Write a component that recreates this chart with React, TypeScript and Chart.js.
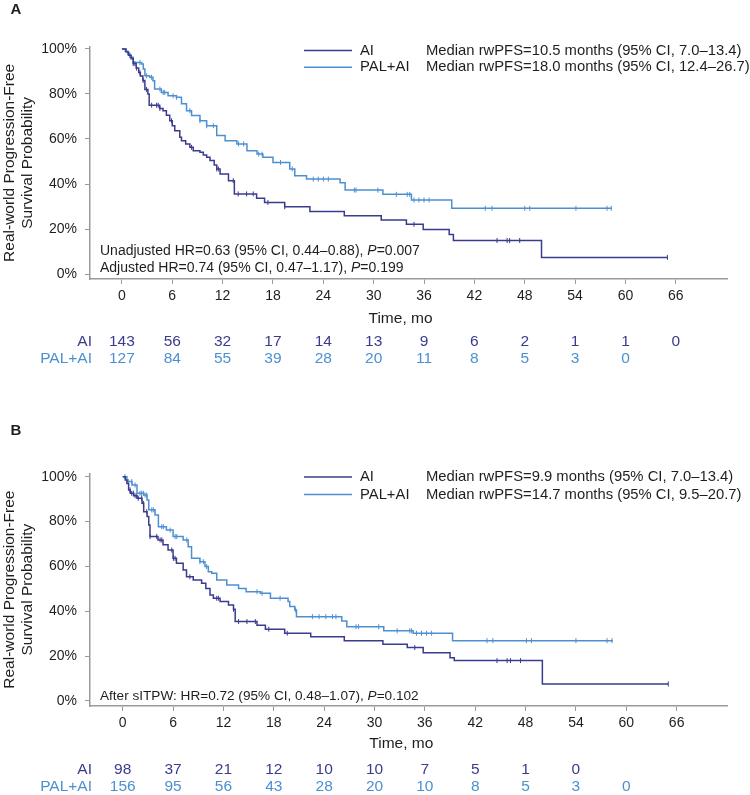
import React, { useEffect, useRef } from 'react';
import { Chart, registerables } from 'chart.js';

Chart.register(...registerables);

// ---------- shared ----------
const timeTicks = [0, 6, 12, 18, 24, 30, 36, 42, 48, 54, 60, 66];
const survTicks = [0, 20, 40, 60, 80, 100];
const groupNames = ['AI', 'PAL+AI'];
const timeTitle = 'Time, mo';
const yTitle = ['Real-world Progression-Free', 'Survival Probability'];

// ---------- Panel A ----------
const aTimesAI = [0, 0.5, 0.8, 1.1, 1.35, 1.7, 2.0, 2.2, 2.5, 2.74, 3.1, 3.25, 4.5, 4.9, 5.3, 5.7, 6.0, 6.3, 6.9, 7.1, 7.6, 8.1, 8.5, 9.3, 9.7, 10.1, 10.5, 11.0, 11.3, 11.7, 12.7, 13.4, 16.05, 17.0, 19.4, 22.4, 26.5, 30.9, 33.9, 35.9, 39.0, 39.5, 50.0];
const aSurvAI = [100, 98.6, 97.2, 95.8, 93.5, 91.5, 89.5, 88, 86, 82, 80, 75, 73.5, 72.6, 70.5, 68.1, 65.9, 63.7, 60.8, 59.2, 57.8, 56.3, 54.8, 54.1, 52.9, 51.9, 50.4, 48.5, 46.7, 44.4, 41.5, 35.6, 33.7, 31.8, 29.9, 27.8, 25.9, 24.0, 22.1, 19.8, 17.6, 14.9, 7.4];
const aEndAI = 65.0;
const aCensorAI = [0.95, 1.35, 1.55, 1.75, 2.15, 2.54, 2.94, 3.54, 4.13, 4.33, 4.53, 5.92, 8.3, 11.3, 11.5, 13.27, 13.86, 14.86, 15.65, 17.4, 19.4, 34.8, 44.7, 45.9, 46.2, 47.4, 65.0];
const aTimesPAL = [0, 0.4, 0.7, 0.95, 1.35, 2.35, 2.55, 2.74, 3.3, 3.7, 3.9, 4.7, 5.5, 6.5, 7.1, 7.7, 8.3, 9.3, 10.1, 11.3, 12.3, 13.7, 14.9, 16.1, 16.8, 18.0, 20.0, 20.6, 22.0, 26.0, 26.6, 31.1, 34.5, 39.3];
const aSurvPAL = [100, 99, 97.5, 96.3, 94, 93.3, 91.1, 88.1, 87.4, 85.9, 82.2, 80.7, 79.2, 78.5, 75.6, 72.6, 70.4, 68.1, 65.9, 61.5, 59.2, 57.8, 54.8, 53.3, 51.9, 49.6, 46.7, 43.7, 42.2, 40.6, 37.3, 35.4, 32.9, 29.2];
const aEndPAL = 58.4;
const aCensorPAL = [1.1, 2.15, 2.94, 3.54, 4.53, 4.93, 5.1, 6.1, 6.5, 8.1, 9.3, 10.1, 10.9, 13.9, 14.5, 16.3, 16.7, 18.9, 20.3, 22.8, 23.4, 24.0, 24.6, 27.7, 27.9, 30.5, 32.7, 34.0, 34.3, 34.8, 35.4, 36.0, 36.6, 43.3, 44.1, 48.0, 48.6, 54.1, 57.8, 58.3];
const aRiskAI = [143, 56, 32, 17, 14, 13, 9, 6, 2, 1, 1, 0];
const aRiskPAL = [127, 84, 55, 39, 28, 20, 11, 8, 5, 3, 0];
const aMedians = ['Median rwPFS=10.5 months (95% CI, 7.0–13.4)', 'Median rwPFS=18.0 months (95% CI, 12.4–26.7)'];
const aNotes = ['Unadjusted HR=0.63 (95% CI, 0.44–0.88), *P*=0.007', 'Adjusted HR=0.74 (95% CI, 0.47–1.17), *P*=0.199'];

// ---------- Panel B ----------
const bTimesAI = [0, 0.3, 0.5, 0.7, 0.9, 1.3, 1.7, 2.3, 2.5, 2.9, 3.1, 3.25, 4.2, 4.8, 5.4, 6.0, 6.4, 7.2, 7.6, 8.4, 9.4, 9.9, 10.4, 10.8, 11.6, 12.6, 13.2, 13.4, 16.0, 17.0, 19.3, 22.4, 26.4, 31.0, 33.9, 35.8, 39.0, 39.5, 50.0];
const bSurvAI = [100, 98.5, 97, 94.1, 92.6, 91.5, 90.4, 88.1, 84.4, 82.2, 78.5, 73.3, 71.8, 69.6, 67.3, 63.6, 61.4, 58.4, 55.4, 53.9, 52.5, 50.2, 47.3, 45.8, 44.3, 42.8, 40.9, 35.4, 33.8, 32.0, 30.2, 28.6, 26.9, 25.3, 23.8, 21.5, 19.3, 18.0, 7.6];
const bEndAI = 65.0;
const bCensorAI = [0.87, 1.07, 1.27, 1.47, 1.67, 1.86, 2.26, 2.46, 2.86, 3.26, 4.05, 4.45, 4.65, 5.84, 6.04, 6.24, 8.0, 11.2, 11.4, 13.2, 13.8, 14.8, 15.8, 17.4, 19.6, 34.8, 44.6, 45.8, 46.2, 47.4, 65.0];
const bTimesPAL = [0, 0.5, 1.1, 1.7, 2.5, 2.9, 3.1, 3.85, 4.25, 5.2, 6.0, 7.2, 7.8, 8.2, 9.2, 9.8, 10.2, 10.6, 11.2, 12.4, 13.8, 14.7, 16.4, 17.6, 19.7, 19.9, 20.5, 20.7, 26.1, 26.7, 31.1, 34.6, 39.3];
const bSurvPAL = [100, 97.8, 96.3, 92.6, 91.8, 89.6, 85.2, 82.9, 77.7, 76.2, 73.3, 71.8, 68.8, 63.6, 62.1, 59.9, 57.6, 56.9, 53.9, 51.7, 50.2, 48.7, 48.0, 45.8, 44.3, 42.1, 40.6, 37.6, 35.7, 33.1, 31.3, 30.2, 26.9];
const bEndPAL = 58.4;
const bCensorPAL = [0.27, 0.67, 1.07, 1.47, 2.06, 2.26, 2.46, 2.66, 2.86, 3.46, 3.65, 4.65, 4.84, 5.64, 6.24, 6.44, 7.63, 9.2, 9.6, 10.0, 16.0, 16.6, 18.75, 20.6, 22.6, 23.4, 24.2, 25.0, 25.4, 27.8, 28.1, 30.5, 32.7, 34.2, 34.4, 35.0, 35.6, 36.2, 36.8, 43.4, 44.1, 48.1, 48.7, 54.0, 57.7, 58.3];
const bRiskAI = [98, 37, 21, 12, 10, 10, 7, 5, 1, 0];
const bRiskPAL = [156, 95, 56, 43, 28, 20, 10, 8, 5, 3, 0];
const bMedians = ['Median rwPFS=9.9 months (95% CI, 7.0–13.4)', 'Median rwPFS=14.7 months (95% CI, 9.5–20.7)'];
const bNotes = ['After sITPW: HR=0.72 (95% CI, 0.48–1.07), *P*=0.102'];

// ---------- styling ----------
const COLOR_AI = '#3b3b8e';
const COLOR_PAL = '#4d90d2';
const AXIS = '#9a9a9a';
const TEXT = '#1e1e1e';
const FAM = 'Arial, "Liberation Sans", Helvetica, sans-serif';

function stepAt(times: number[], surv: number[], t: number) {
  let v = surv[0];
  for (let i = 0; i < times.length; i++) if (times[i] <= t) v = surv[i];
  return v;
}

function curve(times: number[], surv: number[], end: number) {
  const pts = times.map((t, i) => ({ x: t, y: surv[i] }));
  pts.push({ x: end, y: surv[surv.length - 1] });
  return pts;
}

interface PanelCfg {
  label: string;
  height: number;
  plotTop: number;
  plotBottom: number;
  xMin: number;
  xMax: number;
  yMin: number;
  yMax: number;
  labelY: number;
  legendY: number[];
  noteY: number[];
  noteSize: number;
  timeTitleY: number;
  riskY: number[];
  timesAI: number[]; survAI: number[]; endAI: number; censorAI: number[];
  timesPAL: number[]; survPAL: number[]; endPAL: number; censorPAL: number[];
  riskAI: number[]; riskPAL: number[];
  medians: string[]; notes: string[];
}

const panelA: PanelCfg = {
  label: 'A', height: 400, plotTop: 46.7, plotBottom: 279, xMin: -3.8, xMax: 72.1, yMin: -2.2, yMax: 101.0,
  labelY: 10, legendY: [50.5, 67.3], noteY: [251, 268], noteSize: 14, timeTitleY: 319, riskY: [341.7, 359],
  timesAI: aTimesAI, survAI: aSurvAI, endAI: aEndAI, censorAI: aCensorAI,
  timesPAL: aTimesPAL, survPAL: aSurvPAL, endPAL: aEndPAL, censorPAL: aCensorPAL,
  riskAI: aRiskAI, riskPAL: aRiskPAL, medians: aMedians, notes: aNotes,
};

const panelB: PanelCfg = {
  label: 'B', height: 395, plotTop: 73.3, plotBottom: 306, xMin: -3.9, xMax: 72.0, yMin: -2.23, yMax: 101.5,
  labelY: 31, legendY: [77, 94.5], noteY: [296.7], noteSize: 13.6, timeTitleY: 344, riskY: [370, 386.7],
  timesAI: bTimesAI, survAI: bSurvAI, endAI: bEndAI, censorAI: bCensorAI,
  timesPAL: bTimesPAL, survPAL: bSurvPAL, endPAL: bEndPAL, censorPAL: bCensorPAL,
  riskAI: bRiskAI, riskPAL: bRiskPAL, medians: bMedians, notes: bNotes,
};

function drawRich(ctx: CanvasRenderingContext2D, text: string, x: number, y: number, size: number) {
  const parts = text.split('*');
  let cx = x;
  parts.forEach((p, i) => {
    ctx.font = (i % 2 === 1 ? 'italic ' : '') + size + 'px ' + FAM;
    ctx.fillText(p, cx, y);
    cx += ctx.measureText(p).width;
  });
}

function Panel({ cfg }: { cfg: PanelCfg }) {
  const ref = useRef<HTMLCanvasElement>(null);
  useEffect(() => {
    if (!ref.current) return;
    const overlay = {
      id: 'overlay',
      afterDraw(chart: any) {
        const ctx: CanvasRenderingContext2D = chart.ctx;
        const xs = chart.scales.x;
        const area = chart.chartArea;
        ctx.save();
        ctx.fillStyle = TEXT;
        ctx.textBaseline = 'middle';
        // panel label
        ctx.font = 'bold 15px ' + FAM;
        ctx.textAlign = 'left';
        ctx.fillText(cfg.label, 10.5, cfg.labelY);
        // y title
        const cy = (area.top + area.bottom) / 2;
        ctx.font = '15.5px ' + FAM;
        ctx.textAlign = 'center';
        ctx.textBaseline = 'alphabetic';
        [14, 32].forEach((bx, i) => {
          ctx.save();
          ctx.translate(bx, cy);
          ctx.rotate(-Math.PI / 2);
          ctx.fillText(yTitle[i], 0, 0);
          ctx.restore();
        });
        ctx.textBaseline = 'middle';
        // legend
        const cols = [COLOR_AI, COLOR_PAL];
        cfg.legendY.forEach((ly, i) => {
          ctx.strokeStyle = cols[i];
          ctx.lineWidth = 1.5;
          ctx.beginPath();
          ctx.moveTo(304, ly);
          ctx.lineTo(352, ly);
          ctx.stroke();
          ctx.fillStyle = TEXT;
          ctx.font = '14.8px ' + FAM;
          ctx.textAlign = 'left';
          ctx.fillText(groupNames[i], 360, ly);
          ctx.fillText(cfg.medians[i], 426, ly);
        });
        // notes
        ctx.fillStyle = TEXT;
        ctx.textAlign = 'left';
        cfg.notes.forEach((n, i) => drawRich(ctx, n, 100, cfg.noteY[i], cfg.noteSize));
        // x title
        ctx.font = '15.5px ' + FAM;
        ctx.textAlign = 'center';
        ctx.fillText(timeTitle, xs.getPixelForValue(33.2), cfg.timeTitleY);
        // risk table
        const risks = [cfg.riskAI, cfg.riskPAL];
        risks.forEach((row, r) => {
          ctx.fillStyle = cols[r];
          ctx.font = '15.5px ' + FAM;
          ctx.textAlign = 'right';
          ctx.fillText(groupNames[r], 92, cfg.riskY[r]);
          ctx.textAlign = 'center';
          row.forEach((v, i) => {
            ctx.fillText(String(v), xs.getPixelForValue(timeTicks[i]), cfg.riskY[r]);
          });
        });
        ctx.restore();
      },
    };

    const tickFont = { family: FAM, size: 14 };
    const chart = new Chart(ref.current, {
      type: 'line',
      data: {
        datasets: [
          {
            data: curve(cfg.timesAI, cfg.survAI, cfg.endAI),
            stepped: 'before', borderColor: COLOR_AI, borderWidth: 1.5, pointRadius: 0, fill: false,
          },
          {
            data: curve(cfg.timesPAL, cfg.survPAL, cfg.endPAL),
            stepped: 'before', borderColor: COLOR_PAL, borderWidth: 1.5, pointRadius: 0, fill: false,
          },
          {
            data: cfg.censorAI.map((t) => ({ x: t, y: stepAt(cfg.timesAI, cfg.survAI, t) })),
            showLine: false, pointStyle: 'line', rotation: 90, pointRadius: 2.5, pointBorderWidth: 1,
            pointBorderColor: COLOR_AI, pointBackgroundColor: COLOR_AI, borderColor: COLOR_AI,
          },
          {
            data: cfg.censorPAL.map((t) => ({ x: t, y: stepAt(cfg.timesPAL, cfg.survPAL, t) })),
            showLine: false, pointStyle: 'line', rotation: 90, pointRadius: 2.5, pointBorderWidth: 1,
            pointBorderColor: COLOR_PAL, pointBackgroundColor: COLOR_PAL, borderColor: COLOR_PAL,
          },
        ] as any,
      },
      options: {
        responsive: false,
        animation: false,
        devicePixelRatio: 1,
        events: [],
        layout: { padding: { top: cfg.plotTop, left: 0, right: 750 - 727, bottom: 0 } },
        plugins: { legend: { display: false }, tooltip: { enabled: false }, title: { display: false } },
        scales: {
          x: {
            type: 'linear', min: cfg.xMin, max: cfg.xMax,
            afterBuildTicks: (s: any) => { s.ticks = timeTicks.map((v) => ({ value: v })); },
            afterFit: (s: any) => { s.height = cfg.height - cfg.plotBottom; },
            grid: { drawOnChartArea: false, drawTicks: true, tickLength: 5, color: AXIS, lineWidth: 1 },
            border: { display: true, color: AXIS, width: 1.5 },
            ticks: { font: tickFont, color: TEXT, padding: 4, autoSkip: false, maxRotation: 0, callback: (v: any) => String(v) },
          },
          y: {
            type: 'linear', min: cfg.yMin, max: cfg.yMax,
            afterBuildTicks: (s: any) => { s.ticks = survTicks.map((v) => ({ value: v })); },
            afterFit: (s: any) => { s.width = 90; },
            grid: { drawOnChartArea: false, drawTicks: true, tickLength: 5, color: AXIS, lineWidth: 1 },
            border: { display: true, color: AXIS, width: 1.5 },
            ticks: { font: tickFont, color: TEXT, padding: 8, autoSkip: false, callback: (v: any) => v + '%' },
          },
        },
      } as any,
      plugins: [overlay],
    });
    return () => chart.destroy();
  }, [cfg]);
  return <canvas ref={ref} width={750} height={cfg.height} style={{ display: 'block', width: 750, height: cfg.height }} />;
}

export default function App() {
  return (
    <div style={{ position: 'absolute', left: 0, top: 0, width: 750, height: 795, background: '#fff' }}>
      <Panel cfg={panelA} />
      <Panel cfg={panelB} />
    </div>
  );
}
